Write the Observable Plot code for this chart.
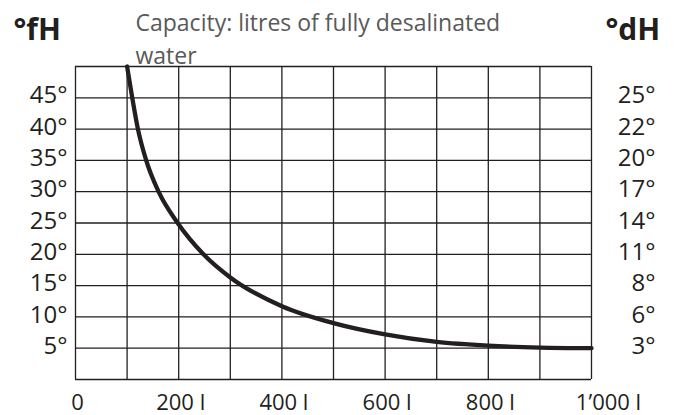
<!DOCTYPE html>
<html><head><meta charset="utf-8">
<script src="https://cdn.jsdelivr.net/npm/d3@7"></script>
<script src="https://cdn.jsdelivr.net/npm/@observablehq/plot@0.6"></script>
<style>body{margin:0;background:#fff} svg{display:block}</style>
</head><body><div id="chart"></div>
<script>
// Capacity curve: litres of fully desalinated water vs. water hardness (°fH)
const litres     = [100, 110, 121, 137, 161, 198, 248, 300, 400, 500, 600, 700, 800, 900, 1000];
const hardnessFH = [50, 45, 40, 35, 30, 25, 20, 16.3, 11.7, 9.0, 7.2, 6.0, 5.4, 5.1, 5.0];

const fhTicks  = [5, 10, 15, 20, 25, 30, 35, 40, 45];
const dhLabels = [3, 6, 8, 11, 14, 17, 20, 22, 25];
const xTicks      = [0, 200, 400, 600, 800, 1000];
const xTickLabels = ["0", "200 l", "400 l", "600 l", "800 l", "1’000 l"];
const gridX = [0, 100, 200, 300, 400, 500, 600, 700, 800, 900, 1000];
const gridY = [0, 5, 10, 15, 20, 25, 30, 35, 40, 45, 50];

const leftUnit  = "°fH";
const rightUnit = "°dH";
const caption   = "Capacity: litres of fully desalinated\nwater";

const ink = "#231f20";
const data = litres.map((l, i) => ({l, h: hardnessFH[i]}));
const xLabel = d => xTickLabels[xTicks.indexOf(d)];

const chart = Plot.plot({
  width: 674, height: 415,
  marginLeft: 75, marginRight: 83, marginTop: 66, marginBottom: 36,
  x: {domain: [0, 1000]},
  y: {domain: [0, 50]},
  style: {fontFamily: "Open Sans", background: "#fff", color: ink},
  marks: [
    Plot.ruleX(gridX, {stroke: ink, strokeWidth: 1.3}),
    Plot.ruleY(gridY, {stroke: ink, strokeWidth: 1.3}),
    Plot.line(data, {x: "l", y: "h", curve: "monotone-x", stroke: ink, strokeWidth: 4.3}),
    Plot.axisY(fhTicks, {anchor: "left", tickSize: 0, tickPadding: 8, fontSize: 24, label: null, dy: -2,
      tickFormat: d => d + "°", fill: ink}),
    Plot.axisY(fhTicks, {anchor: "right", tickSize: 0, tickPadding: 64, textAnchor: "end", fontSize: 24, label: null, dy: -2,
      tickFormat: d => dhLabels[fhTicks.indexOf(d)] + "°", fill: ink}),
    Plot.axisX(xTicks.slice(0, 5), {anchor: "bottom", tickSize: 0, tickPadding: 15, fontSize: 22, label: null,
      tickFormat: xLabel, fill: ink, dx: 2}),
    Plot.axisX(xTicks.slice(5), {anchor: "bottom", tickSize: 0, tickPadding: 15, fontSize: 22, label: null,
      tickFormat: xLabel, fill: ink, dx: 17}),
    Plot.text([leftUnit], {text: d => d, frameAnchor: "top-left", textAnchor: "start", lineAnchor: "bottom",
      dx: -62, dy: -27, fontSize: 30, fontWeight: "bold", fill: ink}),
    Plot.text([rightUnit], {text: d => d, frameAnchor: "top-right", textAnchor: "start", lineAnchor: "bottom",
      dx: 14, dy: -27, fontSize: 30, fontWeight: "bold", fill: ink}),
    Plot.text([caption], {text: d => d, frameAnchor: "top-left", textAnchor: "start", lineAnchor: "bottom",
      dx: 60, dy: -3, fontSize: 23, lineHeight: 1.43, fill: "#595959"})
  ]
});
document.getElementById("chart").append(chart);
</script>
</body></html>
